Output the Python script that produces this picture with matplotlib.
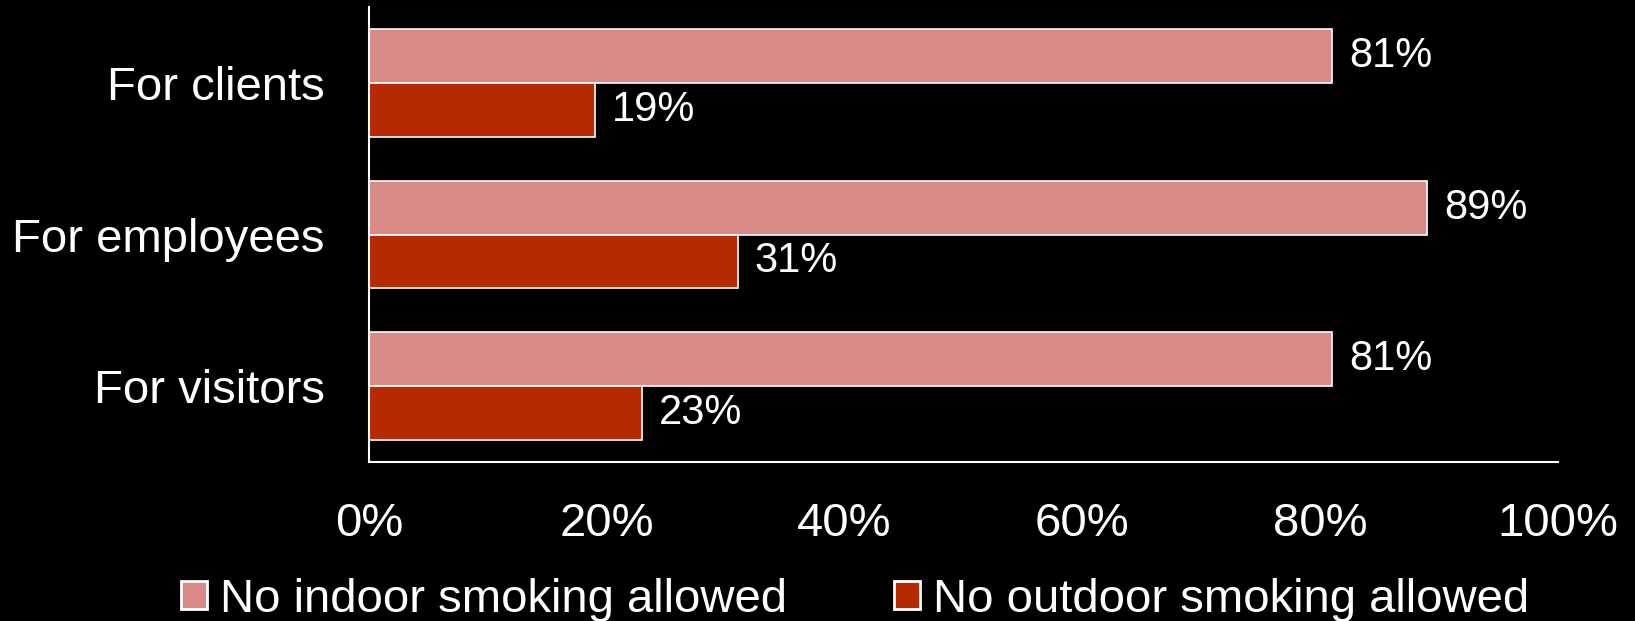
import numpy as np
import matplotlib
matplotlib.use("Agg")
import matplotlib.pyplot as plt

categories = ["For clients", "For employees", "For visitors"]
indoor = [81, 89, 81]
outdoor = [19, 31, 23]
series_names = ["No indoor smoking allowed", "No outdoor smoking allowed"]
xticks = [0, 20, 40, 60, 80, 100]

pink = "#D98A87"
red = "#B52A00"

plt.rcParams["font.family"] = ["Liberation Sans", "DejaVu Sans"]

fig = plt.figure(figsize=(16.35, 6.21), dpi=100, facecolor="black")
ax = fig.add_axes([0.2257, 0.256, 0.7272, 0.7327], facecolor="black")

y = np.arange(len(categories))
h = 0.355
b1 = ax.barh(y - h / 2, indoor, height=h, color=pink, edgecolor="white", linewidth=1.2, label=series_names[0])
b2 = ax.barh(y + h / 2, outdoor, height=h, color=red, edgecolor="white", linewidth=1.2, label=series_names[1])

for bars in (b1, b2):
    ax.bar_label(bars, labels=[f"{v}%" for v in bars.datavalues], padding=12,
                 color="white", fontsize=30)

ax.set_ylim(len(categories) - 0.5, -0.5)
ax.set_xlim(0, 100)
ax.set_yticks(y)
ax.set_yticklabels(categories, fontsize=34, color="white")
ax.set_xticks(xticks)
ax.set_xticklabels([f"{t}%" for t in xticks], fontsize=34, color="white")
ax.tick_params(axis="both", length=0)
ax.tick_params(axis="x", pad=29)
ax.tick_params(axis="y", pad=32)

for s in ["top", "right"]:
    ax.spines[s].set_visible(False)
for s in ["left", "bottom"]:
    ax.spines[s].set_color("white")
    ax.spines[s].set_linewidth(1.5)

leg = fig.legend(handles=[b1, b2], loc="center", bbox_to_anchor=(0.523, 0.034), ncol=2,
                 frameon=False, fontsize=34, handlelength=0.55, handleheight=0.55,
                 handletextpad=0.28, columnspacing=2.25, borderaxespad=0)
for t in leg.get_texts():
    t.set_color("white")
for p in leg.get_patches():
    p.set_linewidth(2)

fig.savefig("out.png", dpi=100, facecolor="black")
